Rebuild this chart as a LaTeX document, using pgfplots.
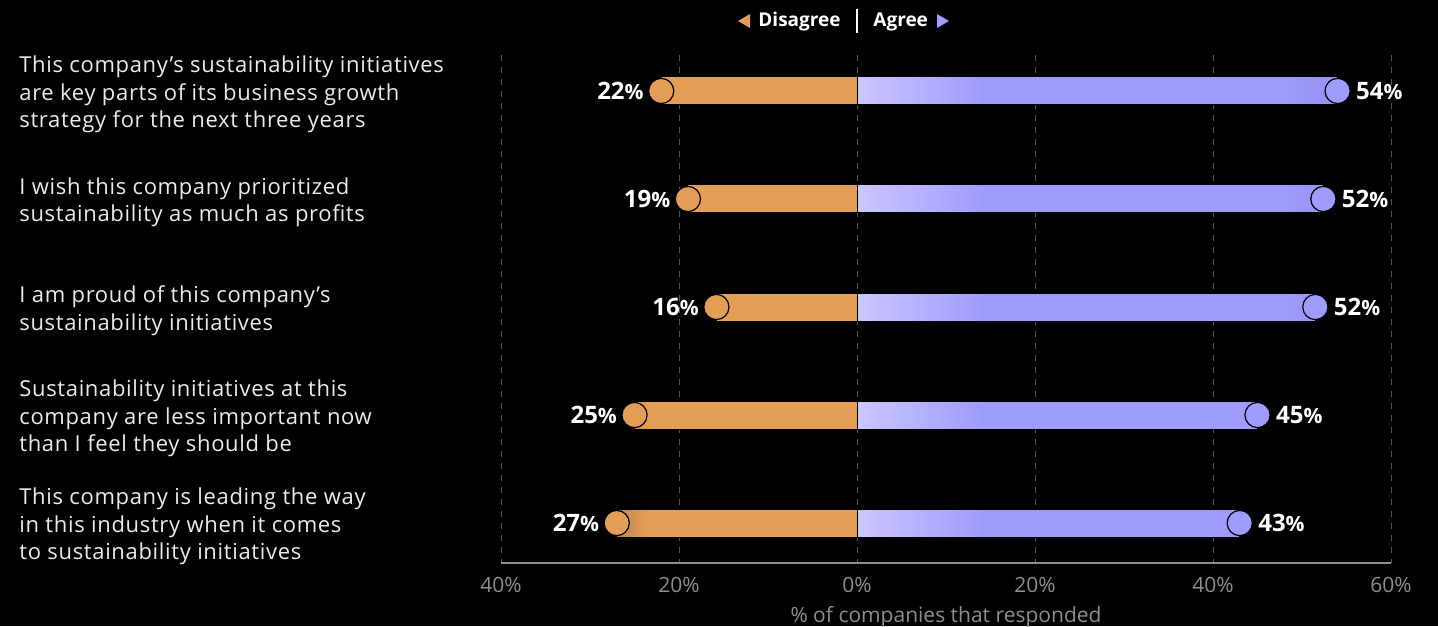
\documentclass[border=0pt]{standalone}
\usepackage{fontspec}
\setmainfont{Open Sans}
\newfontfamily\rowfont[LetterSpace=3]{Open Sans}
\usepackage{pgfplots}
\pgfplotsset{compat=1.18}
\definecolor{dorange}{HTML}{E39D55}
\definecolor{dorangedark}{HTML}{B98552}
\definecolor{apurple}{HTML}{A09CFE}
\definecolor{apurpledark}{HTML}{9490F2}
\definecolor{apurplelight}{HTML}{CBC7FF}
\definecolor{gridgray}{HTML}{555555}
\definecolor{tickgray}{HTML}{8E8E8E}
\pgfdeclarehorizontalshading{pshade}{100bp}{color(0bp)=(apurplelight); color(25bp)=(apurplelight); color(38bp)=(apurple); color(69bp)=(apurple); color(75bp)=(apurpledark); color(100bp)=(apurpledark)}
\pgfdeclarehorizontalshading{oshade}{100bp}{color(0bp)=(dorangedark); color(25bp)=(dorangedark); color(31bp)=(dorange); color(100bp)=(dorange)}
\begin{document}
\begin{tikzpicture}[x=1pt,y=1pt]
\fill[black] (0,0) rectangle (719,313);
\begin{axis}[
  at={(250.5pt,31.5pt)}, anchor=south west,
  scale only axis, width=445pt, height=254pt,
  xmin=-40, xmax=60, ymin=0.667, ymax=5.37, y dir=reverse,
  clip=false,
  axis x line*=bottom, axis y line*=left,
  x axis line style={draw=tickgray, line width=0.8pt},
  y axis line style={draw=none},
  major tick length=0pt,
  xtick={-40,-20,0,20,40,60},
  xticklabels={40\%,20\%,0\%,20\%,40\%,60\%},
  xticklabel style={text=tickgray, font=\fontsize{10.5}{12}\selectfont, yshift=-3.5pt},
  xlabel={\% of companies that responded},
  xlabel style={text=tickgray, font=\fontsize{10.5}{12}\selectfont, yshift=0pt},
  xmajorgrids,
  grid style={gridgray, dashed, line width=0.5pt},
  ytick={1,2,3,4,5},
  yticklabels={
    {This company’s sustainability initiatives\\are key parts of its business growth\\strategy for the next three years},
    {I wish this company prioritized\\sustainability as much as profits},
    {I am proud of this company’s\\sustainability initiatives},
    {Sustainability initiatives at this\\company are less important now\\than I feel they should be},
    {This company is leading the way\\in this industry when it comes\\to sustainability initiatives}},
  yticklabel style={align=left, anchor=west, xshift=-241pt, yshift=-1.75pt, inner sep=0pt,
    text=white!92!black, font=\rowfont\fontsize{11}{13.75}\selectfont},
]
% Disagree bars
\addplot[xbar, bar shift=0pt, bar width=14pt, draw=black, line width=0.5pt, shading=oshade]
  coordinates {(-22,1) (-19,2) (-15.8,3) (-25,4) (-27,5)};
% Agree bars
\addplot[xbar, bar shift=0pt, bar width=14pt, draw=black, line width=0.5pt, shading=pshade]
  coordinates {(54,1) (52.4,2) (51.5,3) (45,4) (43,5)};
% Disagree end circles with labels
\addplot[only marks, mark=*, mark size=6.3pt,
  mark options={fill=dorange, draw=black, line width=0.6pt},
  point meta=explicit symbolic,
  nodes near coords={\pgfplotspointmeta{\fontsize{10.5}{12}\selectfont\%}},
  nodes near coords style={anchor=east, xshift=-8.5pt, inner sep=0pt, text=white,
    font=\fontsize{12}{14}\selectfont\bfseries}]
  coordinates {(-22,1) [22] (-19,2) [19] (-15.8,3) [16] (-25,4) [25] (-27,5) [27]};
% Agree end circles with labels
\addplot[only marks, mark=*, mark size=6.3pt,
  mark options={fill=apurple, draw=black, line width=0.6pt},
  point meta=explicit symbolic,
  nodes near coords={\pgfplotspointmeta{\fontsize{10.5}{12}\selectfont\%}},
  nodes near coords style={anchor=west, xshift=9pt, inner sep=0pt, text=white,
    font=\fontsize{12}{14}\selectfont\bfseries}]
  coordinates {(54,1) [54] (52.4,2) [52] (51.5,3) [52] (45,4) [45] (43,5) [43]};
\end{axis}
% header legend
\fill[dorange] (369,302.5) -- (375,306) -- (375,299) -- cycle;
\fill[apurple] (468.5,306) -- (468.5,299) -- (474.5,302.5) -- cycle;
\node[anchor=east, inner sep=0pt, text=white, font=\fontsize{9.5}{12}\selectfont\bfseries] at (420.5,302) {Disagree};
\node[anchor=west, inner sep=0pt, text=white, font=\fontsize{9.5}{12}\selectfont\bfseries] at (436.5,302) {Agree};
\draw[white, line width=0.6pt] (428.5,308.5) -- (428.5,296.5);
\pgfresetboundingbox
\useasboundingbox (0,0) rectangle (719,313);
\end{tikzpicture}
\end{document}
